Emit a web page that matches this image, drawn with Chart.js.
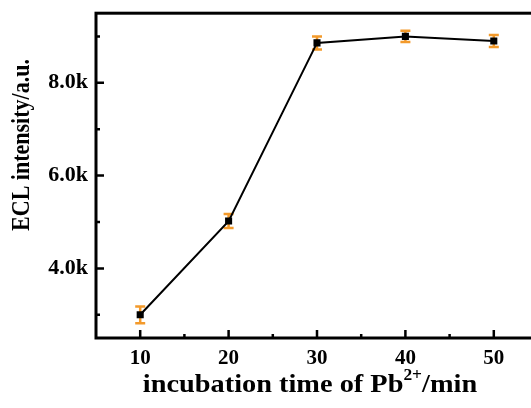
<!DOCTYPE html>
<html>
<head>
<meta charset="utf-8">
<script src="https://cdn.jsdelivr.net/npm/chart.js@4"></script>
<style>
  html, body { margin: 0; padding: 0; background: #fff; overflow: hidden; }
</style>
</head>
<body>
<canvas id="eclChart" width="545" height="408"></canvas>
<script>
// incubation time (min) vs ECL intensity with error bars
const times = [10, 20, 30, 40, 50];
const intensity = [3000, 5020, 8860, 9000, 8900];
const errors = [180, 150, 140, 120, 130];
const xMajor = [10, 20, 30, 40, 50];
const xMinor = [15, 25, 35, 45];
const yMajor = [4000, 6000, 8000];
const yMinor = [3000, 5000, 7000, 9000];

const FONT = "'Liberation Serif', 'Times New Roman', serif";

// frame + inward ticks
const framePlugin = {
  id: 'frame',
  afterDraw(chart) {
    const { ctx, chartArea: a, scales } = chart;
    ctx.save();
    ctx.strokeStyle = '#000';
    ctx.lineWidth = 3;
    ctx.strokeRect(a.left, a.top, a.right - a.left, a.bottom - a.top);
    ctx.lineWidth = 2.5;
    ctx.beginPath();
    xMajor.forEach(v => { const x = scales.x.getPixelForValue(v); ctx.moveTo(x, a.bottom); ctx.lineTo(x, a.bottom - 8); });
    xMinor.forEach(v => { const x = scales.x.getPixelForValue(v); ctx.moveTo(x, a.bottom); ctx.lineTo(x, a.bottom - 4); });
    yMajor.forEach(v => { const y = scales.y.getPixelForValue(v); ctx.moveTo(a.left, y); ctx.lineTo(a.left + 8, y); });
    yMinor.forEach(v => { const y = scales.y.getPixelForValue(v); ctx.moveTo(a.left, y); ctx.lineTo(a.left + 4, y); });
    ctx.stroke();
    ctx.restore();
  }
};

// orange error bars behind the markers
const errorBarPlugin = {
  id: 'errorBars',
  beforeDatasetsDraw(chart) {
    const { ctx, scales } = chart;
    ctx.save();
    ctx.strokeStyle = '#f39a2b';
    ctx.lineWidth = 2.5;
    times.forEach((t, i) => {
      const x = scales.x.getPixelForValue(t);
      const yLo = scales.y.getPixelForValue(intensity[i] - errors[i]);
      const yHi = scales.y.getPixelForValue(intensity[i] + errors[i]);
      ctx.beginPath();
      ctx.moveTo(x, yLo); ctx.lineTo(x, yHi);
      ctx.moveTo(x - 5, yLo); ctx.lineTo(x + 5, yLo);
      ctx.moveTo(x - 5, yHi); ctx.lineTo(x + 5, yHi);
      ctx.stroke();
    });
    ctx.restore();
  }
};

// axis titles (x title needs a superscript)
const titlePlugin = {
  id: 'titles',
  afterDraw(chart) {
    const { ctx } = chart;
    ctx.save();
    ctx.fillStyle = '#000';
    ctx.textBaseline = 'alphabetic';
    const big = 'bold 26px ' + FONT;
    const small = 'bold 16px ' + FONT;
    const p1 = 'incubation time of Pb', sup = '2+', p2 = '/min';
    ctx.font = big; const w1 = ctx.measureText(p1).width, w3 = ctx.measureText(p2).width;
    ctx.font = small; const w2 = ctx.measureText(sup).width;
    const sx = 1.09;
    ctx.translate(310, 392);
    ctx.scale(sx, 1);
    let x = -(w1 + w2 + w3) / 2;
    ctx.font = big; ctx.fillText(p1, x, 0); x += w1;
    ctx.font = small; ctx.fillText(sup, x, -12); x += w2;
    ctx.font = big; ctx.fillText(p2, x, 0);
    ctx.restore();

    ctx.save();
    ctx.fillStyle = '#000';
    ctx.translate(22, 145);
    ctx.rotate(-Math.PI / 2);
    ctx.scale(1, 1.15);
    ctx.font = 'bold 22px ' + FONT;
    ctx.textAlign = 'center';
    ctx.textBaseline = 'middle';
    ctx.fillText('ECL intensity/a.u.', 0, 0);
    ctx.restore();
  }
};

new Chart(document.getElementById('eclChart'), {
  type: 'line',
  data: {
    datasets: [{
      data: times.map((t, i) => ({ x: t, y: intensity[i] })),
      borderColor: '#000',
      borderWidth: 2,
      backgroundColor: '#000',
      pointStyle: 'rect',
      pointRadius: 5,
      pointBorderWidth: 0,
      tension: 0
    }]
  },
  options: {
    animation: false,
    responsive: false,
    layout: { padding: { top: 0, right: 7, left: 0, bottom: 0 } },
    plugins: { legend: { display: false }, tooltip: { enabled: false } },
    scales: {
      x: {
        type: 'linear', min: 5, max: 55,
        grid: { display: false }, border: { display: false },
        afterBuildTicks: s => { s.ticks = xMajor.map(v => ({ value: v })); },
        afterFit: s => { s.height = 70; },
        ticks: { color: '#000', padding: 0, font: { family: FONT, size: 21, weight: 'bold' } }
      },
      y: {
        type: 'linear', min: 2500, max: 9500,
        grid: { display: false }, border: { display: false },
        afterBuildTicks: s => { s.ticks = yMajor.map(v => ({ value: v })); },
        afterFit: s => { s.width = 96; },
        ticks: {
          color: '#000', padding: 0, font: { family: FONT, size: 22, weight: 'bold' },
          callback: v => (v / 1000).toFixed(1) + 'k'
        }
      }
    }
  },
  plugins: [errorBarPlugin, framePlugin, titlePlugin]
});
</script>
</body>
</html>
